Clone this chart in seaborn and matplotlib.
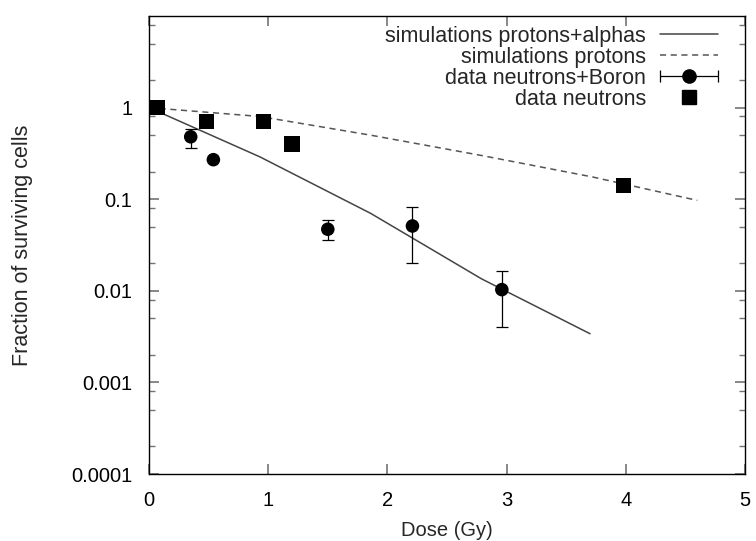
import numpy as np
import matplotlib
matplotlib.use("Agg")
import matplotlib.pyplot as plt
import seaborn as sns
from matplotlib.ticker import FixedLocator, FixedFormatter, NullFormatter
from matplotlib.legend_handler import HandlerErrorbar
from matplotlib.lines import Line2D

# simulation curves
sim_pa_dose = [0.0, 0.93, 1.86, 2.79, 3.70]
sim_pa_frac = [1.0, 0.29, 0.070, 0.0135, 0.0034]
sim_p_dose = [0.0, 0.93, 1.86, 2.79, 3.72, 4.60]
sim_p_frac = [1.0, 0.80, 0.50, 0.30, 0.175, 0.097]

# measured data: neutrons + boron (with error bars)
nb_dose = [0.03, 0.35, 0.54, 1.50, 2.21, 2.96]
nb_frac = [1.0, 0.48, 0.27, 0.047, 0.051, 0.0103]
nb_lo = [1.0, 0.36, 0.27, 0.036, 0.020, 0.0040]
nb_hi = [1.0, 0.58, 0.27, 0.059, 0.082, 0.0164]

# measured data: neutrons only
n_dose = [0.07, 0.48, 0.96, 1.20, 3.98]
n_frac = [1.0, 0.70, 0.70, 0.40, 0.142]

y_major = [1e-4, 1e-3, 1e-2, 1e-1, 1]
y_labels = ["0.0001", "0.001", "0.01", "0.1", "1"]
x_ticks = [0, 1, 2, 3, 4, 5]

sns.set_style("ticks")
plt.rcParams["font.family"] = ["Liberation Sans", "DejaVu Sans"]
fs = 14.5
fs_big = 15.5

fig = plt.figure(figsize=(7.56, 5.41), dpi=100)
ax = fig.add_axes([149 / 756, 1 - 474 / 541, 596 / 756, 458 / 541])

sns.lineplot(x=sim_pa_dose, y=sim_pa_frac, ax=ax, color="#444444", lw=1.1, zorder=2)
sns.lineplot(x=sim_p_dose, y=sim_p_frac, ax=ax, color="#555555", lw=1.1, zorder=2)
ax.lines[-1].set_dashes([4, 3])

nb_frac_a = np.array(nb_frac)
yerr = [nb_frac_a - np.array(nb_lo), np.array(nb_hi) - nb_frac_a]
ax.errorbar(nb_dose, nb_frac, yerr=yerr, fmt="none", ecolor="black", elinewidth=0.9, capsize=4, capthick=0.9, zorder=3)
sns.scatterplot(x=nb_dose, y=nb_frac, ax=ax, marker="o", s=95, color="black", edgecolor="none", zorder=4)
sns.scatterplot(x=n_dose, y=n_frac, ax=ax, marker="s", s=120, color="black", edgecolor="none", zorder=5)

ax.set_yscale("log")
ax.set_xlim(0, 5)
ax.set_ylim(1e-4, 10)

ax.xaxis.set_major_locator(FixedLocator(x_ticks))
ax.set_xticklabels([str(t) for t in x_ticks])
ax.yaxis.set_major_locator(FixedLocator(y_major))
ax.yaxis.set_major_formatter(FixedFormatter(y_labels))
ax.yaxis.set_minor_locator(FixedLocator(sorted(m * 10.0 ** k for k in range(-4, 1) for m in (2, 5, 8))))
ax.yaxis.set_minor_formatter(NullFormatter())
ax.xaxis.set_minor_locator(FixedLocator([]))

ax.tick_params(axis="both", which="major", direction="in", length=7, width=1.2, color="0.45",
               top=True, right=True, labelsize=fs, labelcolor="black")
ax.tick_params(axis="y", which="major", pad=12)
ax.tick_params(axis="x", which="major", pad=12)
ax.tick_params(axis="y", which="minor", direction="in", length=4, width=1.0, color="0.45", right=True)
for sp in ax.spines.values():
    sp.set_color("black")
    sp.set_linewidth(1.0)

ax.set_xlabel("Dose (Gy)", fontsize=fs)
ax.set_ylabel("Fraction of surviving cells", fontsize=fs_big)
ax.yaxis.set_label_coords(-0.195, 0.5)
ax.xaxis.set_label_coords(0.5, -0.103)

# legend handles
h_pa = Line2D([], [], color="#444444", lw=1.1)
h_p = Line2D([], [], color="#555555", lw=1.1, dashes=[4, 3])
h_nb = ax.errorbar([np.nan], [np.nan], xerr=[[0.1], [0.1]], fmt="o", color="black", ms=9.5,
                   elinewidth=0.9, capsize=4, capthick=0.9)
h_n = Line2D([], [], color="black", marker="s", ls="none", ms=10)
leg = ax.legend([h_pa, h_p, h_nb, h_n],
                ["simulations protons+alphas", "simulations protons", "data neutrons+Boron", "data neutrons"],
                loc="upper right", bbox_to_anchor=(0.955, 0.979), frameon=False, markerfirst=False,
                fontsize=fs_big, handlelength=2.7, handletextpad=0.65, labelspacing=0.0, borderpad=0,
                borderaxespad=0, handler_map={type(h_nb): HandlerErrorbar(xerr_size=1.35)})

fig.savefig("out.png", dpi=100)
